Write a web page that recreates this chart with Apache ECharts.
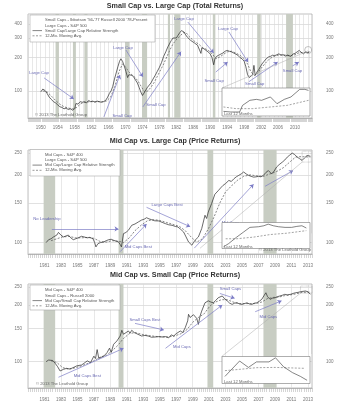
<!DOCTYPE html>
<html>
<head>
<meta charset="utf-8">
<script src="https://cdn.jsdelivr.net/npm/echarts@6/dist/echarts.min.js"></script>
<style>
  html, body { margin: 0; padding: 0; background: #fff; }
  #chart { width: 350px; height: 404px; }
</style>
</head>
<body>
<div id="chart"></div>
<script>
const FONT = 'Liberation Sans, Arial, sans-serif'

// ---- chart 1: Small Cap vs. Large Cap (Total Returns) ----
const slRel = [[1950.0,98],[1950.5,104],[1951.0,101],[1951.5,95],[1952.0,88],[1952.5,84],[1953.0,80],[1953.5,78],[1954.0,75],[1954.5,72],[1955.0,71],[1955.5,69],[1956.0,70],[1956.5,68],[1957.0,69],[1957.5,67],[1958.0,69],[1958.3,77],[1958.8,76],[1959.3,80],[1959.8,79],[1960.3,80],[1960.8,78],[1961.3,82],[1961.8,80],[1962.3,81],[1962.8,79],[1963.3,81],[1963.8,80],[1964.3,79],[1964.8,80],[1965.3,82],[1965.8,88],[1966.2,95],[1966.6,100],[1967.0,110],[1967.4,128],[1967.8,145],[1968.2,165],[1968.6,185],[1968.9,195],[1969.3,185],[1969.7,168],[1970.1,150],[1970.5,132],[1970.8,140],[1971.2,145],[1971.6,138],[1972.0,132],[1972.4,128],[1972.8,118],[1973.2,108],[1973.6,98],[1974.0,91],[1974.4,96],[1974.8,102],[1975.2,108],[1975.6,112],[1976.0,118],[1976.5,128],[1977.0,138],[1977.5,150],[1978.0,163],[1978.5,180],[1979.0,205],[1979.5,225],[1980.0,250],[1980.4,240],[1980.8,285],[1981.2,300],[1981.6,305],[1982.0,300],[1982.4,318],[1982.8,335],[1983.2,350],[1983.5,362],[1983.8,340],[1984.2,320],[1984.6,305],[1985.0,295],[1985.4,285],[1985.8,280],[1986.2,272],[1986.6,265],[1987.0,258],[1987.4,252],[1987.8,218],[1988.0,245],[1988.5,240],[1989.0,232],[1989.5,225],[1990.0,215],[1990.4,200],[1990.8,172],[1991.1,195],[1991.5,205],[1992.0,210],[1992.5,215],[1993.0,220],[1993.5,228],[1994.0,232],[1994.5,228],[1995.0,225],[1995.5,220],[1996.0,215],[1996.5,210],[1997.0,200],[1997.5,195],[1998.0,185],[1998.4,165],[1998.8,140],[1999.2,132],[1999.6,128],[2000.0,140],[2000.3,170],[2000.6,138],[2001.0,148],[2001.4,155],[2001.8,165],[2002.2,175],[2002.7,185],[2003.2,195],[2003.7,202],[2004.2,205],[2004.7,210],[2005.2,208],[2005.7,212],[2006.2,216],[2006.7,210],[2007.2,212],[2007.7,206],[2008.2,210],[2008.6,212],[2009.0,205],[2009.5,215],[2010.0,218],[2010.5,225],[2011.0,232],[2011.5,222],[2012.0,216],[2012.5,225],[2013.0,220],[2013.3,228]]
const slAvg = [[1950.5,100],[1951.5,98],[1952.5,90],[1953.5,82],[1954.5,76],[1955.5,72],[1956.5,70],[1957.5,69],[1958.5,71],[1959.5,77],[1960.5,79],[1961.5,80],[1962.5,80],[1963.5,80],[1964.5,80],[1965.5,81],[1966.5,88],[1967.5,110],[1968.5,150],[1969.3,175],[1970.0,165],[1970.8,148],[1971.5,140],[1972.3,132],[1973.0,122],[1973.8,108],[1974.5,98],[1975.3,100],[1976.0,108],[1976.8,120],[1977.5,135],[1978.3,155],[1979.0,175],[1979.8,205],[1980.5,235],[1981.2,265],[1982.0,290],[1982.8,310],[1983.6,335],[1984.3,335],[1985.0,310],[1985.8,290],[1986.6,275],[1987.4,262],[1988.2,245],[1989.0,238],[1989.8,228],[1990.6,212],[1991.4,195],[1992.2,202],[1993.0,212],[1994.0,225],[1995.0,228],[1996.0,220],[1997.0,210],[1998.0,195],[1998.8,175],[1999.6,148],[2000.4,138],[2001.2,145],[2002.0,160],[2003.0,178],[2004.0,195],[2005.0,205],[2006.0,210],[2007.0,212],[2008.0,210],[2009.0,208],[2010.0,212],[2011.0,222],[2012.0,222],[2013.3,222]]
const slBands = [[1953.5,1954.3],[1957.6,1958.3],[1960.3,1961.0],[1969.9,1970.9],[1973.9,1975.1],[1980.0,1980.5],[1981.5,1982.9],[1990.6,1991.2],[2001.1,2001.9],[2007.9,2009.5]]
const slArrows = [[1950.8,131,1957.8,84.7],[1970.1,234,1974.1,134],[1964.9,58.3,1968.7,139],[1984.7,418,1990.8,220],[1974.1,71.7,1983.1,226],[1994.4,340,1998.9,182],[1991.3,148,1994.1,182],[1999.1,121,2005.9,182],[2009.4,168,2010.9,182]]
const slNotes = [[1949.6,145,'Large Cap'],[1969.4,244,'Large Cap'],[1969.2,59.5,'Small Cap'],[1983.8,446,'Large Cap'],[1977.2,74.8,'Small Cap'],[1994.2,362,'Large Cap'],[1990.9,123,'Small Cap'],[2000.5,116,'Small Cap'],[2009.4,151,'Small Cap']]
const slTicks = [100, 200, 300, 400]
const slInsetRel = [[0.2,205.8],[1.2,205],[2.4,205],[2.8,213.3],[3.8,219.6],[4.7,220.8],[5.4,219.6],[6.6,223.8],[7.5,215.4],[8.5,220.8],[9.4,223.8],[10.6,233.3],[11.3,233.3],[11.8,232]]
const slInsetAvg = [[0.2,211.3],[1.9,209.2],[4.2,209.2],[6.6,211.3],[8.9,213.3],[11.8,219.6]]

// ---- chart 2: Mid Cap vs. Large Cap (Price Returns) ----
const mlRel = [[1981.2,100],[1981.5,103],[1981.8,104],[1982.1,106],[1982.5,108],[1982.7,111],[1983.0,108],[1983.3,106],[1983.6,107],[1983.9,108],[1984.2,105],[1984.5,103],[1984.8,104],[1985.1,105],[1985.5,106.7],[1985.8,106],[1986.2,105],[1986.5,105.5],[1986.9,104],[1987.1,100],[1987.25,95.7],[1987.5,99],[1987.8,100],[1988.2,100.7],[1988.5,102],[1988.8,103],[1989.1,103.5],[1989.4,102.4],[1989.7,101.5],[1990.0,100.7],[1990.2,98],[1990.35,95.7],[1990.6,109.6],[1990.9,111],[1991.2,113.5],[1991.6,119.4],[1992.0,121],[1992.4,123.5],[1992.8,126],[1993.1,127],[1993.4,129],[1993.7,127.5],[1994.0,126.5],[1994.4,125],[1994.9,124.8],[1995.3,123],[1995.7,121.4],[1996.1,120],[1996.5,119.4],[1996.9,118],[1997.2,117.4],[1997.5,115],[1997.9,111.5],[1998.2,106],[1998.5,100.7],[1998.9,97.4],[1999.1,100],[1999.3,102.5],[1999.7,106],[2000.1,115.4],[2000.5,132.3],[2000.7,128],[2000.9,136.8],[2001.3,148.9],[2001.7,164],[2002.1,170],[2002.4,175],[2002.7,179.7],[2003.0,183],[2003.4,189],[2003.7,187],[2004.0,192],[2004.3,196],[2004.6,199],[2004.9,202],[2005.2,206],[2005.5,202],[2005.8,199],[2006.1,197],[2006.4,195.5],[2006.7,196],[2007.0,197],[2007.3,196],[2007.6,199],[2007.9,205],[2008.2,209],[2008.6,202],[2008.9,208],[2009.2,216.7],[2009.5,222],[2009.9,228],[2010.2,233],[2010.5,240],[2010.8,245],[2011.1,250],[2011.4,246],[2011.7,240],[2012.0,236],[2012.3,232],[2012.6,238],[2012.9,244],[2013.1,245],[2013.3,242]]
const mlAvg = [[1981.8,102],[1982.5,104],[1983.2,106],[1984.0,106.5],[1984.8,105],[1985.5,105],[1986.3,105.5],[1987.0,104.5],[1987.8,101],[1988.5,100.5],[1989.2,102],[1990.0,101.5],[1990.6,100],[1991.3,105],[1992.0,113],[1992.8,120],[1993.5,125],[1994.3,126.5],[1995.0,125.5],[1995.8,123],[1996.6,120.5],[1997.4,118],[1998.1,113],[1998.8,106],[1999.5,100.5],[2000.2,104],[2000.9,115],[2001.6,130],[2002.3,150],[2003.0,168],[2003.8,180],[2004.5,190],[2005.2,197],[2006.0,200],[2006.8,198],[2007.6,197],[2008.4,202],[2009.2,207],[2010.0,215],[2010.8,228],[2011.5,240],[2012.2,241],[2013.3,240]]
const mlBands = [[1980.9,1982.3],[1990.0,1990.6],[2000.8,2001.5],[2007.6,2009.2]]
const mlArrows = [[1981.9,115,1990.0,115],[1990.2,91.2,1993.4,121],[1993.4,143.5,1998.7,117.7],[1999.2,94.5,2006.4,181.6],[2007.8,178,2011.2,209]]
const mlNotes = [[1981.3,127,'No Leadership'],[1992.4,96,'Mid Caps Best'],[1995.9,147,'Large Caps Best'],[2003.6,122,'Mid Caps']]
const mlTicks = [100, 150, 200, 250]
const mlInsetRel = [[0.2,203],[0.9,209],[2.0,221],[2.9,230],[3.8,239],[5.0,240.2],[5.7,242],[6.3,245],[7.0,242],[7.7,240.2],[8.6,239],[9.5,239],[10.2,240.8],[10.9,242],[11.5,237.8]]
const mlInsetAvg = [[0.5,218],[2.0,218],[4.3,221],[6.6,225.8],[8.8,228.2],[11.5,233]]

// ---- chart 3: Mid Cap vs. Small Cap (Price Returns) ----
const msRel = [[1981.2,100],[1981.5,102],[1981.7,103],[1982.0,101.5],[1982.3,98],[1982.6,94],[1982.9,89.2],[1983.1,90],[1983.3,91],[1983.5,90.5],[1983.7,92.2],[1984.0,91.5],[1984.3,92.2],[1984.6,93.5],[1984.9,94.9],[1985.2,95.5],[1985.5,96],[1985.8,98],[1986.2,101],[1986.6,98.8],[1987.0,107],[1987.2,104],[1987.4,116],[1987.6,104],[1987.8,105],[1988.2,107],[1988.6,111.7],[1988.9,118],[1989.1,112],[1989.4,123.8],[1989.8,129],[1990.2,137],[1990.4,147],[1990.6,140],[1990.8,142.7],[1991.2,145.7],[1991.4,142],[1991.6,147],[1991.9,143],[1992.2,141],[1992.5,139],[1992.8,137],[1993.2,138],[1993.6,137],[1994.0,135],[1994.5,135.4],[1994.9,136],[1995.3,135.4],[1995.7,136],[1996.1,134],[1996.4,139],[1996.7,137],[1997.0,141],[1997.5,145.7],[1997.8,143],[1998.1,151.8],[1998.4,165],[1998.5,178.8],[1998.7,172],[1998.9,175],[1999.1,178],[1999.3,182],[1999.5,170],[1999.7,158],[1999.9,175],[2000.1,186],[2000.5,206],[2000.9,211],[2001.2,208],[2001.5,206],[2001.8,212],[2002.1,219],[2002.6,224],[2002.9,216],[2003.2,211],[2003.5,205],[2003.8,202],[2004.1,205],[2004.4,206],[2004.7,203],[2005.0,202],[2005.3,204],[2005.6,206],[2005.9,203],[2006.2,202],[2006.5,205],[2006.8,206],[2007.1,210],[2007.4,215],[2007.7,226],[2007.9,233],[2008.1,222],[2008.4,215],[2008.7,218],[2009.0,219],[2009.3,222],[2009.6,224],[2009.9,226],[2010.2,228.6],[2010.5,227],[2010.9,228.6],[2011.2,231],[2011.5,233],[2011.8,234],[2012.1,236],[2012.4,237],[2012.7,238],[2013.0,236],[2013.3,228.6]]
const msAvg = [[1981.8,101],[1982.5,99],[1983.2,93],[1984.0,91],[1984.8,93],[1985.5,95],[1986.3,98],[1987.0,101],[1987.8,106],[1988.5,108],[1989.2,114],[1989.9,122],[1990.6,133],[1991.3,141],[1992.0,143],[1992.8,140],[1993.6,138],[1994.4,136.5],[1995.2,135.5],[1996.0,135.5],[1996.8,137],[1997.6,141],[1998.3,148],[1999.0,162],[1999.7,172],[2000.4,180],[2001.1,198],[2001.8,208],[2002.5,214],[2003.2,214],[2003.9,208],[2004.6,204],[2005.3,204],[2006.0,204],[2006.7,204],[2007.4,208],[2008.1,217],[2008.8,220],[2009.5,221],[2010.2,225],[2010.9,227],[2011.6,230],[2012.3,234],[2013.3,235]]
const msBands = [[1980.9,1982.3],[1990.0,1990.6],[2000.8,2001.5],[2007.6,2009.2]]
const msArrows = [[1982.7,82.6,1990.6,117.8],[1992.0,160,1995.5,147.6],[1995.7,117.8,2002.6,200.5],[2002.3,231,2004.1,217.7],[2006.6,184.6,2009.8,211]]
const msNotes = [[1986.2,83.9,'Mid Caps Best'],[1993.2,166.6,'Small Caps Best'],[1997.7,119.3,'Mid Caps'],[2003.6,243,'Small Caps'],[2008.2,172.4,'Mid Caps']]
const msTicks = [100, 150, 200, 250]
const msInsetRel = [[0.4,225.5],[2.4,237.5],[3.6,232.5],[4.7,236.8],[6.4,236.8],[7.3,240],[8.4,233],[9.6,228.5],[10.7,225.5],[11.6,222.5]]
const msInsetAvg = [[0.4,230],[2.4,231],[4.7,232.3],[7.3,232.5],[11.3,231.8]]

const titles = ['Small Cap vs. Large Cap (Total Returns)', 'Mid Cap vs. Large Cap (Price Returns)', 'Mid Cap vs. Small Cap (Price Returns)']
const legendTexts = [
  ["Small Caps - Ibbotson '56-'77 Russell 2000 '78-Present", 'Large Caps - S&P 500', 'Small Cap/Large Cap Relative Strength', '12-Mo. Moving Avg.'],
  ['Mid Caps - S&P 400', 'Large Caps - S&P 500', 'Mid Cap/Large Cap Relative Strength', '12-Mo. Moving Avg.'],
  ['Mid Caps - S&P 400', 'Small Caps - Russell 2000', 'Mid Cap/Small Cap Relative Strength', '12-Mo. Moving Avg.']
]

const chart = echarts.init(document.getElementById('chart'))

const mainGrid = { show: true, borderColor: '#999', borderWidth: 0.6, backgroundColor: 'transparent', outerBoundsMode: 'none' }
const insetGrid = { show: true, borderColor: '#777', borderWidth: 0.6, backgroundColor: '#fff', z: 10, outerBoundsMode: 'none' }

const mainX = (gi, min, max, interval, minor, margin, fmt) => ({
  type: 'value', gridIndex: gi, min, max, interval,
  axisLine: { show: true, lineStyle: { color: '#999', width: 0.6 } },
  axisTick: { show: true, length: 4, lineStyle: { color: '#aaa', width: 0.5 } },
  minorTick: { show: true, splitNumber: minor, length: 4, lineStyle: { color: '#aaa', width: 0.5 } },
  splitLine: { show: true, lineStyle: { color: '#d8d8d8', width: 0.6 } },
  axisLabel: { fontSize: 4.5, color: '#777', margin, fontFamily: FONT, hideOverlap: false, formatter: fmt }
})
const mainY = (gi, min, max, ticks, pos) => ({
  type: 'log', logBase: 10, gridIndex: gi, min, max, position: pos,
  axisLine: { show: false }, axisTick: { show: false, customValues: ticks },
  splitLine: { show: pos === 'left', lineStyle: { color: '#cccccc', width: 0.6 } },
  axisLabel: { customValues: ticks, fontSize: 4.5, color: '#777', fontFamily: FONT, margin: pos === 'left' ? 6 : 14 }
})
const insetX = gi => ({ type: 'value', gridIndex: gi, min: 0, max: 12, show: false })
const insetY = (gi, min, max) => ({ type: 'value', gridIndex: gi, min, max, show: false })

// 1950, 1954 ... 2010 on the first chart; odd years on the others
const fmtQuad = v => (v % 4 === 2 && v >= 1950 && v <= 2010) ? String(v) : ''
const fmtOdd = v => (Number.isInteger(v) && v >= 1981 && v <= 2013) ? String(v) : ''

const arrowItems = arr => arr.map(a => [{ coord: [a[0], a[1]] }, { coord: [a[2], a[3]] }])
const linkItem = (x1, y1, x2, y2, type) => [
  { coord: [x1, y1], symbol: 'none', lineStyle: { color: '#aaa', width: 0.5, type: type || 'solid' } },
  { coord: [x2, y2], symbol: 'none' }
]
const noteItems = arr => arr.map(n => ({
  coord: [n[0], n[1]], name: n[2], symbol: 'circle', symbolSize: 0,
  label: { show: true, position: 'inside', formatter: '{b}', fontSize: 4.2, color: '#6a6ab4', fontFamily: FONT }
}))
const bandItems = arr => arr.map(b => [{ xAxis: b[0] }, { xAxis: b[1] }])

function mainSeries(i, rel, avg, bands, arrows, notes, links, extraPoints, extraAreas) {
  return [
    {
      type: 'line', xAxisIndex: i, yAxisIndex: 2 * i, data: rel, symbol: 'none', z: 1, silent: true,
      lineStyle: { opacity: 0 },
      markArea: {
        silent: true,
        itemStyle: { color: '#c8cdc3' },
        data: bandItems(bands).concat(extraAreas || [])
      }
    },
    {
      type: 'line', xAxisIndex: i, yAxisIndex: 2 * i, data: avg, symbol: 'none', z: 2, silent: true,
      lineStyle: { color: '#555', width: 0.7, type: [2, 1.5] }
    },
    {
      type: 'line', xAxisIndex: i, yAxisIndex: 2 * i, data: rel, symbol: 'none', z: 3, silent: true,
      lineStyle: { color: '#2a2a2a', width: 0.7 },
      markLine: {
        silent: true, symbol: ['none', 'arrow'], symbolSize: 4,
        lineStyle: { color: '#7c7cc6', width: 0.7, type: 'solid' },
        label: { show: false },
        data: arrowItems(arrows).concat(links)
      },
      markPoint: { silent: true, data: noteItems(notes).concat(extraPoints || []) }
    }
  ]
}

function insetSeries(k, rel, avg) {
  return [
    { type: 'line', xAxisIndex: k, yAxisIndex: k + 3, data: avg, symbol: 'none', z: 12, silent: true,
      lineStyle: { color: '#666', width: 0.6, type: [2, 1.5] } },
    { type: 'line', xAxisIndex: k, yAxisIndex: k + 3, data: rel, symbol: 'none', z: 13, silent: true,
      lineStyle: { color: '#333', width: 0.6 } }
  ]
}

const zoomBox = (x1, y1, x2, y2) => [
  { xAxis: x1, yAxis: y1, itemStyle: { color: 'rgba(0,0,0,0)', borderColor: '#999', borderWidth: 0.6, borderType: 'dotted' } },
  { xAxis: x2, yAxis: y2 }
]

function legendBox(x, y, w, h, texts) {
  const rows = [5.2, 10.4, 15.6, 20.8]
  const els = [{ type: 'rect', z: 100, shape: { x, y, width: w, height: h }, style: { fill: '#fff', stroke: '#aaa', lineWidth: 0.6 } }]
  texts.forEach((t, r) => {
    els.push({ type: 'text', z: 101, style: { text: t, x: x + 15, y: y + rows[r], fill: '#555', fontSize: 4.2, fontFamily: FONT, verticalAlign: 'middle' } })
  })
  els.push({ type: 'line', z: 101, shape: { x1: x + 2.5, y1: y + rows[2], x2: x + 12, y2: y + rows[2] }, style: { stroke: '#333', lineWidth: 0.6 } })
  els.push({ type: 'line', z: 101, shape: { x1: x + 2.5, y1: y + rows[3], x2: x + 12, y2: y + rows[3] }, style: { stroke: '#555', lineWidth: 0.6, lineDash: [2, 1.5] } })
  return els
}
const smallText = (t, x, y, align) => ({
  type: 'text', z: 101, style: { text: t, x, y, fill: '#666', fontSize: 4.2, fontFamily: FONT, align: align || 'left', verticalAlign: 'middle' }
})

const option = {
  animation: false,
  textStyle: { fontFamily: FONT },
  title: titles.map((t, i) => ({
    text: t, left: 'center', top: [2.5, 138, 271.5][i], padding: 0,
    textStyle: { fontSize: 7.2, fontWeight: 'bold', color: '#333', fontFamily: FONT }
  })),
  grid: [
    Object.assign({ left: 28, top: 14, width: 284, height: 104 }, mainGrid),
    Object.assign({ left: 28, top: 150, width: 284, height: 104 }, mainGrid),
    Object.assign({ left: 28, top: 284, width: 284, height: 104 }, mainGrid),
    Object.assign({ left: 222, top: 88, width: 88, height: 28 }, insetGrid),
    Object.assign({ left: 222, top: 222.5, width: 88, height: 26 }, insetGrid),
    Object.assign({ left: 222, top: 356.5, width: 88, height: 27 }, insetGrid)
  ],
  xAxis: [
    mainX(0, 1947, 2014, 1, 4, 7, fmtQuad),
    mainX(1, 1979, 2013.5, 2, 8, 9, fmtOdd),
    mainX(2, 1979, 2013.5, 2, 8, 9, fmtOdd),
    insetX(3), insetX(4), insetX(5)
  ],
  yAxis: [
    mainY(0, 57, 494, slTicks, 'left'), mainY(0, 57, 494, slTicks, 'right'),
    mainY(1, 89, 258, mlTicks, 'left'), mainY(1, 89, 258, mlTicks, 'right'),
    mainY(2, 72.4, 259.4, msTicks, 'left'), mainY(2, 72.4, 259.4, msTicks, 'right'),
    insetY(3, 200, 235), insetY(4, 200, 248), insetY(5, 220, 241)
  ],
  series: [].concat(
    mainSeries(0, slRel, slAvg, slBands, slArrows, slNotes,
      [linkItem(1992.8, 106.4, 2013.1, 230), linkItem(2013.4, 228, 2013.4, 106.4, 'dotted')],
      [{ coord: [2013.1, 234], symbol: 'circle', symbolSize: 7, itemStyle: { color: 'rgba(0,0,0,0)', borderColor: '#999', borderWidth: 0.6 }, label: { show: false } }]),
    mainSeries(1, mlRel, mlAvg, mlBands, mlArrows, mlNotes,
      [linkItem(1999.9, 94.4, 2012.3, 228), linkItem(2013.4, 228, 2013.4, 110, 'dotted')],
      [], [zoomBox(2012.3, 228, 2013.4, 255)]),
    mainSeries(2, msRel, msAvg, msBands, msArrows, msNotes,
      [linkItem(2002.5, 106.3, 2012.1, 231.8), linkItem(2013.4, 231.8, 2013.4, 110, 'dotted')],
      [], [zoomBox(2012.1, 231.8, 2013.5, 253)]),
    insetSeries(3, slInsetRel, slInsetAvg),
    insetSeries(4, mlInsetRel, mlInsetAvg),
    insetSeries(5, msInsetRel, msInsetAvg)
  ),
  graphic: [].concat(
    legendBox(30, 15, 125, 27, legendTexts[0]),
    legendBox(30, 149.5, 90, 26.5, legendTexts[1]),
    legendBox(30, 285, 90, 25, legendTexts[2]),
    [
      smallText('\u00a9 2013 The Leuthold Group', 35, 115),
      smallText('\u00a9 2013 The Leuthold Group', 36, 384),
      smallText('\u00a9 2013 The Leuthold Group', 311, 249.5, 'right'),
      smallText('Last 12 Months', 224, 114),
      smallText('Last 12 Months', 224, 246.5),
      smallText('Last 12 Months', 224, 381.5)
    ]
  )
}

chart.setOption(option)
</script>
</body>
</html>
